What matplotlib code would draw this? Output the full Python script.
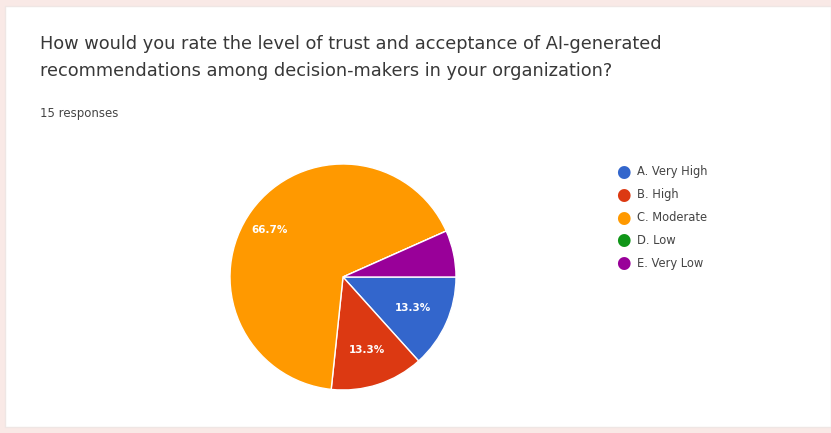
import matplotlib.pyplot as plt
from matplotlib.patches import Rectangle
import numpy as np

# survey answers (15 responses)
question = ("How would you rate the level of trust and acceptance of AI-generated\n"
            "recommendations among decision-makers in your organization?")
response_note = "15 responses"
options = ["A. Very High", "B. High", "C. Moderate", "D. Low", "E. Very Low"]
counts = [2, 2, 10, 0, 1]
colors = ["#3366cc", "#dc3912", "#ff9900", "#109618", "#990099"]

W, H = 831, 433
fig = plt.figure(figsize=(W / 100, H / 100), dpi=100)
fig.patch.set_facecolor("#f9e9e6")

# white card with a faint border, kept behind the pie axes
card = Rectangle((5 / W, 6 / H), (W - 5) / W, (H - 12) / H,
                 transform=fig.transFigure, facecolor="white",
                 edgecolor="#efe6e4", linewidth=1, zorder=-5)
fig.patches.append(card)

fig.text(40 / W, 1 - 35 / H, question, fontsize=12.8, color="#383838",
         va="top", ha="left", linespacing=1.62)
fig.text(40 / W, 1 - 113 / H, response_note, fontsize=8.5, color="#444444",
         va="center", ha="left")

# pie: centre (343, 277), radius 113 px
cx, cy, r = 343, 277, 113
ax = fig.add_axes([(cx - r) / W, (H - cy - r) / H, 2 * r / W, 2 * r / H])
ax.set_zorder(2)
total = sum(counts)


def pct_label(p):
    return f"{p:.1f}%" if p >= 10 else ""


wedges, texts, autotexts = ax.pie(
    counts, colors=colors, startangle=0, counterclock=False,
    autopct=pct_label, pctdistance=0.68,
    wedgeprops=dict(edgecolor="white", linewidth=1),
    textprops=dict(color="white", fontsize=7.5, fontweight="bold"))

# label of the large slice sits a bit off its bisector
for w, t, c in zip(wedges, autotexts, counts):
    if c / total > 0.5:
        mid = np.deg2rad((w.theta1 + w.theta2) / 2 + 3)
        t.set_position((0.77 * np.cos(mid), 0.77 * np.sin(mid)))

ax.set_xlim(-1, 1)
ax.set_ylim(-1, 1)
ax.set_aspect("auto")
ax.axis("off")

# legend on the right
for i, (name, col) in enumerate(zip(options, colors)):
    y = 1 - (172 + i * 22.8) / H
    fig.text(623 / W, y, "\u25cf", color=col, fontsize=12, ha="center", va="center")
    fig.text(637 / W, y, name, color="#444444", fontsize=8.3, ha="left", va="center")

fig.savefig("out.png", dpi=100, facecolor=fig.get_facecolor())
